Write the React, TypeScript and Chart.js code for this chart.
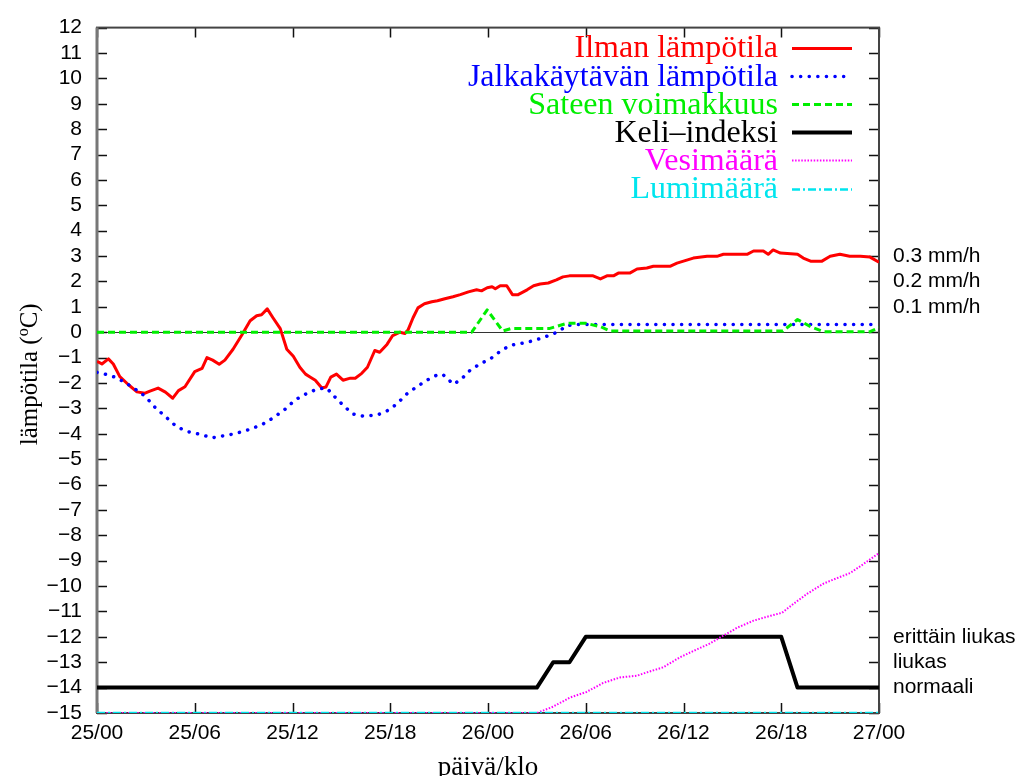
import React, { useEffect, useRef } from 'react';
import { Chart, registerables } from 'chart.js';

Chart.register(...registerables);

// ---------- data ----------
const xTickLabels = ['25/00', '25/06', '25/12', '25/18', '26/00', '26/06', '26/12', '26/18', '27/00'];
const rightLabelValues = [3, 2, 1, -12, -13, -14];
const rightLabelTexts = ['0.3 mm/h', '0.2 mm/h', '0.1 mm/h', 'erittäin liukas', 'liukas', 'normaali'];

const airHours = [0, 0.3, 0.7, 1.0, 1.4, 1.9, 2.45, 2.95, 3.25, 3.75, 4.2, 4.65, 5.0, 5.4, 6.0, 6.45, 6.75, 7.1, 7.5, 7.85, 8.35, 8.9, 9.4, 9.8, 10.1, 10.45, 10.8, 11.25, 11.65, 12.05, 12.45, 12.8, 13.1, 13.4, 13.8, 14.05, 14.35, 14.7, 15.1, 15.55, 15.85, 16.25, 16.6, 17.05, 17.35, 17.8, 18.15, 18.6, 18.9, 19.1, 19.4, 19.7, 20.1, 20.55, 20.9, 21.35, 21.85, 22.3, 22.8, 23.3, 23.6, 23.95, 24.25, 24.45, 24.75, 25.15, 25.5, 25.85, 26.4, 26.8, 27.2, 27.7, 28.2, 28.6, 29.0, 30.45, 30.9, 31.3, 31.7, 32.0, 32.7, 33.15, 33.75, 34.15, 35.2, 35.6, 36.2, 36.6, 37.45, 38.05, 38.45, 39.9, 40.3, 40.9, 41.2, 41.5, 41.95, 43.0, 43.35, 43.8, 44.5, 45.0, 45.6, 46.2, 46.85, 47.45, 48];
const airTemp = [-1.15, -1.25, -1.05, -1.25, -1.75, -2.05, -2.35, -2.4, -2.32, -2.2, -2.36, -2.6, -2.3, -2.15, -1.55, -1.42, -1.0, -1.1, -1.26, -1.1, -0.67, -0.1, 0.45, 0.65, 0.69, 0.92, 0.57, 0.14, -0.67, -0.95, -1.38, -1.65, -1.77, -1.89, -2.2, -2.16, -1.77, -1.65, -1.89, -1.81, -1.81, -1.62, -1.38, -0.72, -0.79, -0.48, -0.13, 0, -0.05, 0.1, 0.57, 0.96, 1.12, 1.2, 1.24, 1.32, 1.4, 1.48, 1.59, 1.67, 1.63, 1.75, 1.79, 1.71, 1.83, 1.83, 1.48, 1.48, 1.67, 1.83, 1.9, 1.94, 2.06, 2.18, 2.22, 2.22, 2.1, 2.22, 2.22, 2.33, 2.33, 2.49, 2.53, 2.6, 2.6, 2.72, 2.84, 2.92, 2.99, 2.99, 3.07, 3.07, 3.2, 3.2, 3.07, 3.24, 3.12, 3.07, 2.92, 2.8, 2.8, 2.99, 3.07, 2.99, 2.99, 2.96, 2.76];

const walkHours = [0, 0.5, 1.1, 1.7, 2.35, 2.95, 3.55, 4.3, 4.9, 5.6, 6.45, 7.05, 7.75, 8.45, 9.25, 10.1, 10.8, 11.55, 12.15, 12.8, 13.5, 14.1, 14.6, 15.1, 15.7, 16.3, 17.2, 17.8, 18.4, 19.0, 19.6, 20.25, 20.85, 21.2, 21.5, 21.85, 22.3, 22.9, 23.5, 24.1, 24.75, 25.35, 26.4, 27.4, 28.25, 28.85, 29.45, 48];
const walkTemp = [-1.58, -1.65, -1.77, -1.97, -2.24, -2.52, -2.95, -3.38, -3.73, -3.92, -4.04, -4.16, -4.08, -4.0, -3.85, -3.65, -3.38, -3.03, -2.67, -2.44, -2.24, -2.2, -2.55, -2.87, -3.22, -3.3, -3.26, -3.1, -2.83, -2.44, -2.16, -1.89, -1.69, -1.65, -1.81, -2.05, -1.89, -1.5, -1.25, -1.07, -0.75, -0.52, -0.4, -0.21, 0, 0.26, 0.3, 0.3];

const rainHours = [0, 23.0, 23.95, 24.9, 25.45, 27.8, 28.85, 30.0, 30.9, 31.5, 42.1, 43.0, 43.8, 44.6, 47.45, 48];
const rainValue = [0, 0, 0.88, 0.05, 0.15, 0.15, 0.35, 0.35, 0.22, 0.05, 0.05, 0.5, 0.22, 0.02, 0.02, 0.18];

const keliHours = [0, 27, 28, 29, 30, 42, 43, 48];
const keliValue = [-14, -14, -13, -13, -12, -12, -14, -14];

const waterHours = [0, 27, 28, 29, 30.05, 31.05, 32.1, 33.15, 33.75, 34.75, 35.8, 36.8, 37.6, 38.45, 39.3, 40.3, 41.35, 42.05, 42.75, 43.6, 44.6, 45.45, 46.25, 47.05, 48];
const waterValue = [-15, -15, -14.75, -14.4, -14.17, -13.82, -13.6, -13.53, -13.4, -13.2, -12.8, -12.5, -12.27, -11.95, -11.64, -11.36, -11.17, -11.05, -10.7, -10.3, -9.9, -9.68, -9.48, -9.13, -8.7];

const snowHours = [0, 48];
const snowValue = [-15, -15];

const seriesLabels = ['Ilman lämpötila', 'Jalkakäytävän lämpötila', 'Sateen voimakkuus', 'Keli\u2013indeksi', 'Vesimäärä', 'Lumimäärä'];
const seriesColors = ['#ff0000', '#0000ff', '#00ee00', '#000000', '#ff00ff', '#00e5ee'];

const SANS = '"Liberation Sans", Arial, Helvetica, sans-serif';
const SERIF = '"Liberation Serif", "Times New Roman", Times, serif';

const styles = [
  { width: 3, dash: [] as number[], cap: 'butt' },
  { width: 3.5, dash: [0.1, 8.5], cap: 'round' },
  { width: 3, dash: [7, 4], cap: 'butt' },
  { width: 4, dash: [] as number[], cap: 'butt' },
  { width: 2, dash: [1.5, 1.6], cap: 'butt' },
  { width: 2.5, dash: [8, 3, 2, 3], cap: 'butt' },
];

const toPoints = (hs: number[], vs: number[]) => hs.map((h, i) => ({ x: h, y: vs[i] }));

const framePlugin = {
  id: 'frameTicks',
  beforeDatasetsDraw(chart: any) {
    const { ctx, chartArea: a, scales } = chart;
    const x = scales.x;
    const y = scales.y;
    ctx.save();
    // zero axis
    ctx.strokeStyle = '#333';
    ctx.lineWidth = 1.2;
    const y0 = Math.round(y.getPixelForValue(0)) + 0.5;
    ctx.beginPath();
    ctx.moveTo(a.left, y0);
    ctx.lineTo(a.right, y0);
    ctx.stroke();
    // ticks
    ctx.strokeStyle = '#111';
    ctx.lineWidth = 1.5;
    ctx.beginPath();
    for (let v = -15; v <= 12; v++) {
      const py = Math.round(y.getPixelForValue(v)) + 0.5;
      ctx.moveTo(a.left, py);
      ctx.lineTo(a.left + 10, py);
      ctx.moveTo(a.right, py);
      ctx.lineTo(a.right - 10, py);
    }
    for (let i = 0; i < xTickLabels.length; i++) {
      const px = Math.round(x.getPixelForValue(i * 6)) + 0.5;
      ctx.moveTo(px, a.bottom);
      ctx.lineTo(px, a.bottom - 10);
      ctx.moveTo(px, a.top);
      ctx.lineTo(px, a.top + 10);
    }
    ctx.stroke();
    // frame
    ctx.strokeStyle = '#444';
    ctx.lineWidth = 2;
    ctx.strokeRect(a.left, a.top, a.right - a.left, a.bottom - a.top);
    ctx.strokeStyle = '#777';
    ctx.lineWidth = 3;
    ctx.beginPath();
    ctx.moveTo(a.left, a.top);
    ctx.lineTo(a.left, a.bottom);
    ctx.stroke();
    ctx.restore();
  },
  afterDraw(chart: any) {
    const { ctx, chartArea: a } = chart;
    ctx.save();
    // legend
    const textRight = 778;
    const lineL = 792;
    const lineR = 852;
    chart.data.datasets.forEach((ds: any, i: number) => {
      const ly = 48 + i * 28.1;
      ctx.font = `32px ${SERIF}`;
      ctx.fillStyle = ds.borderColor;
      ctx.textAlign = 'right';
      ctx.textBaseline = 'middle';
      ctx.fillText(ds.label, textRight, ly + 1);
      ctx.strokeStyle = ds.borderColor;
      ctx.lineWidth = ds.borderWidth;
      ctx.setLineDash(ds.borderDash || []);
      ctx.lineCap = ds.borderCapStyle || 'butt';
      ctx.beginPath();
      ctx.moveTo(lineL, Math.round(ly) + 0.5);
      ctx.lineTo(lineR, Math.round(ly) + 0.5);
      ctx.stroke();
    });
    ctx.setLineDash([]);
    // y title with superscript o
    ctx.fillStyle = '#000';
    ctx.translate(29, (a.top + a.bottom) / 2 + 4);
    ctx.rotate(-Math.PI / 2);
    const big = `25px ${SERIF}`;
    const small = `16px ${SERIF}`;
    const p1 = 'lämpötila (';
    const p2 = 'o';
    const p3 = 'C)';
    ctx.font = big;
    const w1 = ctx.measureText(p1).width;
    const w3 = ctx.measureText(p3).width;
    ctx.font = small;
    const w2 = ctx.measureText(p2).width;
    const total = w1 + w2 + w3;
    let cx = -total / 2;
    ctx.textAlign = 'left';
    ctx.textBaseline = 'alphabetic';
    ctx.font = big;
    ctx.fillText(p1, cx, 8);
    cx += w1;
    ctx.font = small;
    ctx.fillText(p2, cx, -1);
    cx += w2;
    ctx.font = big;
    ctx.fillText(p3, cx, 8);
    ctx.restore();
    // x title
    ctx.save();
    ctx.font = `27px ${SERIF}`;
    ctx.fillStyle = '#000';
    ctx.textAlign = 'center';
    ctx.textBaseline = 'alphabetic';
    ctx.fillText('päivä/klo', (a.left + a.right) / 2, 775);
    ctx.restore();
  },
};

export default function App() {
  const ref = useRef<HTMLCanvasElement | null>(null);
  useEffect(() => {
    if (!ref.current) return;
    const series = [
      toPoints(airHours, airTemp),
      toPoints(walkHours, walkTemp),
      toPoints(rainHours, rainValue),
      toPoints(keliHours, keliValue),
      toPoints(waterHours, waterValue),
      toPoints(snowHours, snowValue),
    ];
    const chart = new Chart(ref.current, {
      type: 'line',
      data: {
        datasets: series.map((pts, i) => ({
          label: seriesLabels[i],
          data: pts,
          borderColor: seriesColors[i],
          backgroundColor: seriesColors[i],
          borderWidth: styles[i].width,
          borderDash: styles[i].dash,
          borderCapStyle: styles[i].cap as any,
          borderJoinStyle: 'round' as any,
          pointRadius: 0,
          fill: false,
          tension: 0,
          order: 5 - i,
          xAxisID: 'x',
          yAxisID: 'y',
        })),
      },
      options: {
        responsive: false,
        maintainAspectRatio: false,
        animation: false,
        events: [],
        layout: { padding: { top: 23, left: 0, right: 0, bottom: 0 } },
        plugins: { legend: { display: false }, tooltip: { enabled: false } },
        scales: {
          x: {
            type: 'linear',
            min: 0,
            max: 48,
            afterBuildTicks: (s: any) => {
              s.ticks = xTickLabels.map((_, i) => ({ value: i * 6 }));
            },
            afterFit: (s: any) => {
              s.height = 63;
            },
            ticks: {
              callback: (v: any) => xTickLabels[Math.round(Number(v) / 6)],
              font: { family: SANS, size: 21 },
              color: '#000',
              padding: 8,
              maxRotation: 0,
              autoSkip: false,
            },
            grid: { display: false, drawTicks: false },
            border: { display: false },
          },
          y: {
            type: 'linear',
            position: 'left',
            min: -15,
            max: 12,
            afterBuildTicks: (s: any) => {
              const t = [];
              for (let v = -15; v <= 12; v++) t.push({ value: v });
              s.ticks = t;
            },
            afterFit: (s: any) => {
              s.width = 97;
            },
            ticks: {
              callback: (v: any) => String(v).replace('-', '\u2212'),
              font: { family: SANS, size: 21 },
              color: '#000',
              padding: 15,
              autoSkip: false,
            },
            grid: { display: false, drawTicks: false },
            border: { display: false },
          },
          y2: {
            type: 'linear',
            position: 'right',
            min: -15,
            max: 12,
            afterBuildTicks: (s: any) => {
              s.ticks = rightLabelValues.map((v) => ({ value: v }));
            },
            afterFit: (s: any) => {
              s.width = 140;
            },
            ticks: {
              callback: (v: any) => rightLabelTexts[rightLabelValues.indexOf(Number(v))],
              font: { family: SANS, size: 21 },
              color: '#000',
              padding: 14,
              autoSkip: false,
            },
            grid: { display: false, drawTicks: false },
            border: { display: false },
          },
        },
      },
      plugins: [framePlugin],
    });
    return () => chart.destroy();
  }, []);
  return (
    <div style={{ position: 'absolute', left: 0, top: 0, width: 1019, height: 776, background: '#fff' }}>
      <canvas ref={ref} width={1019} height={776} style={{ display: 'block' }} />
    </div>
  );
}
